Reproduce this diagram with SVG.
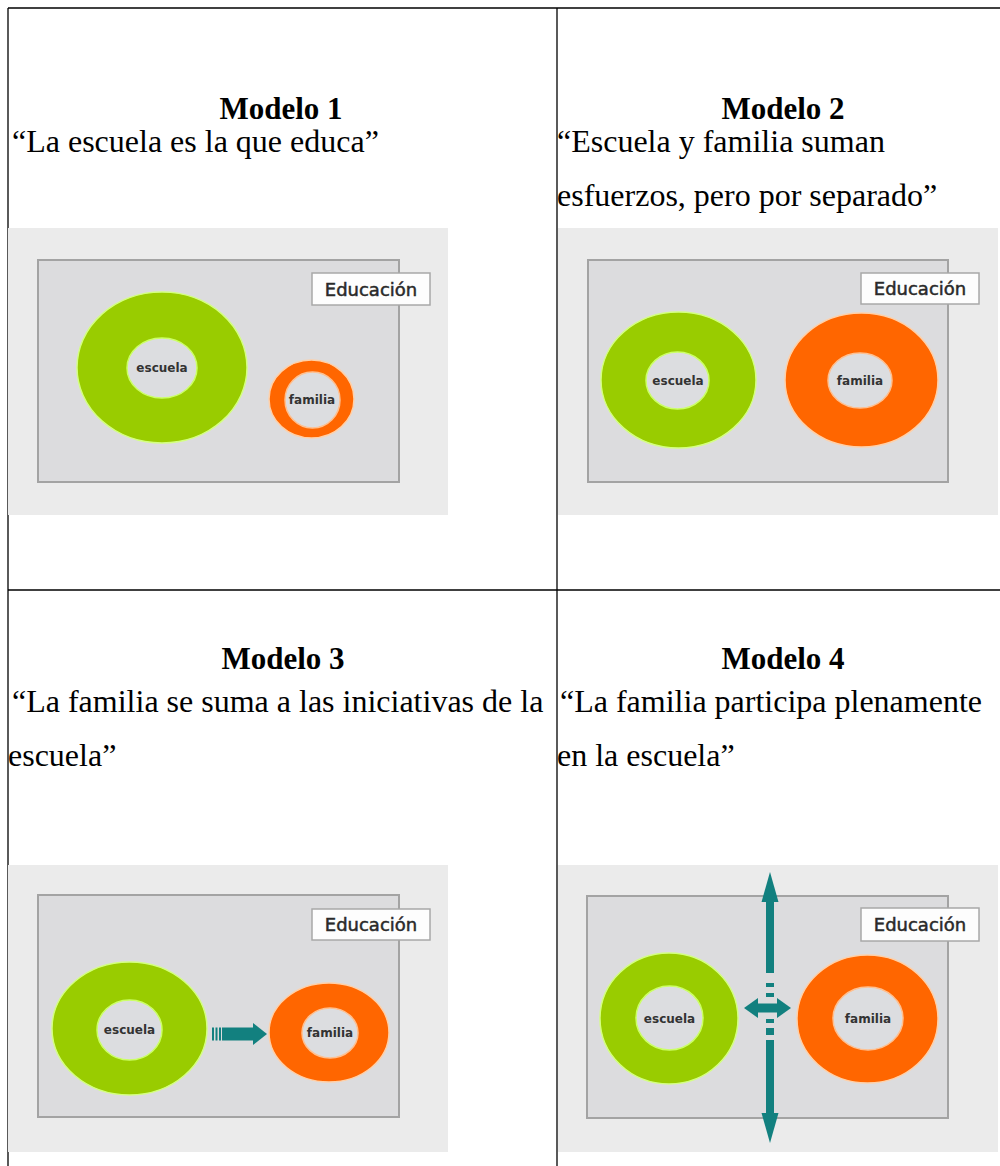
<svg xmlns="http://www.w3.org/2000/svg" width="1000" height="1166" viewBox="0 0 1000 1166">
<style>
.tbl{stroke:#000;stroke-width:1.3;fill:none}
.title{font-family:"Liberation Serif",serif;font-weight:bold;font-size:31px;fill:#000;text-anchor:middle}
.quote{font-family:"Liberation Serif",serif;font-size:32px;fill:#000}
.bg{fill:#ebebeb}
.frame{fill:#dcdcde;stroke:#a3a3a3;stroke-width:2}
.edu{fill:#fdfdfd;stroke:#a8a8a8;stroke-width:1.5}
.edut{font-family:"DejaVu Sans",sans-serif;font-size:18px;fill:#2a2a2a;stroke:#2a2a2a;stroke-width:0.5;text-anchor:middle}
.green{fill:#99cc00;stroke:#d4ff80;stroke-width:1.5}
.orange{fill:#ff6600;stroke:#ffd0a8;stroke-width:1.5}
.hg{fill:#dcdde0;stroke:#ccff66;stroke-width:1.5}
.ho{fill:#dcdde0;stroke:#ffc090;stroke-width:1.5}
.lbl{font-family:"DejaVu Sans",sans-serif;font-weight:bold;font-size:12px;fill:#333;text-anchor:middle}
.teal{fill:#12807f}
</style>
<rect x="0" y="0" width="1000" height="1166" fill="#ffffff"/>
<g id="table">
<line class="tbl" x1="8" y1="8" x2="1000" y2="8"/>
<line class="tbl" x1="8" y1="8" x2="8" y2="1166"/>
<line class="tbl" x1="557" y1="8" x2="557" y2="1166"/>
<line class="tbl" x1="8" y1="590" x2="1000" y2="590"/>
</g>
<g id="texto1">
<text class="title" x="281" y="119">Modelo 1</text>
<text class="quote" x="12" y="152">“La escuela es la que educa”</text>
</g>
<g id="texto2">
<text class="title" x="783" y="119">Modelo 2</text>
<text class="quote" x="557" y="152">“Escuela y familia suman</text>
<text class="quote" x="557" y="206">esfuerzos, pero por separado”</text>
</g>
<g id="texto3">
<text class="title" x="283" y="669">Modelo 3</text>
<text class="quote" x="12" y="712"> “La familia se suma a las iniciativas de la</text>
<text class="quote" x="8" y="766">escuela”</text>
</g>
<g id="texto4">
<text class="title" x="783" y="669">Modelo 4</text>
<text class="quote" x="560" y="712"> “La familia participa plenamente</text>
<text class="quote" x="557" y="766">en la escuela”</text>
</g>
<g id="panel1">
<rect class="bg" x="8" y="228" width="440" height="287"/>
<rect class="frame" x="38" y="260" width="361" height="222"/>
<rect class="edu" x="312" y="273" width="118" height="32"/>
<text class="edut" x="371" y="296">Educación</text>
<ellipse class="green" cx="162" cy="367.5" rx="85" ry="75.5"/>
<ellipse class="hg" cx="162" cy="368" rx="35" ry="30"/>
<text class="lbl" x="162" y="372">escuela</text>
<ellipse class="orange" cx="311.5" cy="399" rx="42.5" ry="39"/>
<ellipse class="ho" cx="312.5" cy="400" rx="27.5" ry="28"/>
<text class="lbl" x="312" y="404">familia</text>
</g>
<g id="panel2">
<rect class="bg" x="558" y="228" width="440" height="287"/>
<rect class="frame" x="588" y="260" width="360" height="222"/>
<rect class="edu" x="861" y="273" width="118" height="31"/>
<text class="edut" x="920" y="295">Educación</text>
<ellipse class="green" cx="678.5" cy="380" rx="77.5" ry="68"/>
<ellipse class="hg" cx="677.5" cy="380.5" rx="31.5" ry="28.5"/>
<text class="lbl" x="678" y="385">escuela</text>
<ellipse class="orange" cx="861.5" cy="380" rx="76.5" ry="67"/>
<ellipse class="ho" cx="860" cy="380.5" rx="32" ry="27.5"/>
<text class="lbl" x="860" y="385">familia</text>
</g>
<g id="panel3">
<rect class="bg" x="8" y="865" width="440" height="287"/>
<rect class="frame" x="38" y="895" width="361" height="222"/>
<rect class="edu" x="312" y="909" width="118" height="31"/>
<text class="edut" x="371" y="931">Educación</text>
<ellipse class="green" cx="129.5" cy="1028.5" rx="77.5" ry="66.5"/>
<ellipse class="hg" cx="129.5" cy="1030" rx="32.5" ry="30"/>
<text class="lbl" x="129.5" y="1034">escuela</text>
<ellipse class="orange" cx="329" cy="1032.5" rx="60" ry="49.5"/>
<ellipse class="ho" cx="330" cy="1033" rx="28" ry="25"/>
<text class="lbl" x="330" y="1037">familia</text>
</g>
<g id="panel4">
<rect class="bg" x="558" y="865" width="440" height="287"/>
<rect class="frame" x="587" y="896" width="361" height="222"/>
<rect class="edu" x="861" y="908" width="118" height="33"/>
<text class="edut" x="920" y="931">Educación</text>
<ellipse class="green" cx="669" cy="1018.5" rx="69" ry="65.5"/>
<ellipse class="hg" cx="669.5" cy="1018" rx="33.5" ry="32"/>
<text class="lbl" x="669.5" y="1023">escuela</text>
<ellipse class="orange" cx="867.5" cy="1019" rx="70.5" ry="64"/>
<ellipse class="ho" cx="868" cy="1018.5" rx="35" ry="31.5"/>
<text class="lbl" x="868" y="1023">familia</text>
</g>
<g id="connectors">
<g id="arrow3" class="teal">
<rect x="212" y="1027.5" width="2" height="13"/>
<rect x="215.5" y="1027.5" width="2" height="13"/>
<rect x="219" y="1027.5" width="2" height="13"/>
<rect x="222" y="1027.5" width="32" height="13"/>
<polygon points="253,1023 267,1034 253,1045"/>
</g>
<g id="arrow4v" class="teal">
<polygon points="770,872 778.5,902 761.5,902"/>
<rect x="766" y="901" width="8" height="72"/>
<rect x="766" y="983" width="8" height="4"/>
<rect x="766" y="993" width="8" height="4"/>
<rect x="766" y="1019" width="8" height="4"/>
<rect x="766" y="1028" width="8" height="7"/>
<rect x="766" y="1040" width="8" height="74"/>
<polygon points="770,1143 778.5,1113 761.5,1113"/>
</g>
<g id="arrow4h" class="teal">
<polygon points="744,1008 758,998 758,1018"/>
<rect x="757" y="1003.5" width="21" height="9"/>
<polygon points="791,1008 777,998 777,1018"/>
</g>
</g>
</svg>
